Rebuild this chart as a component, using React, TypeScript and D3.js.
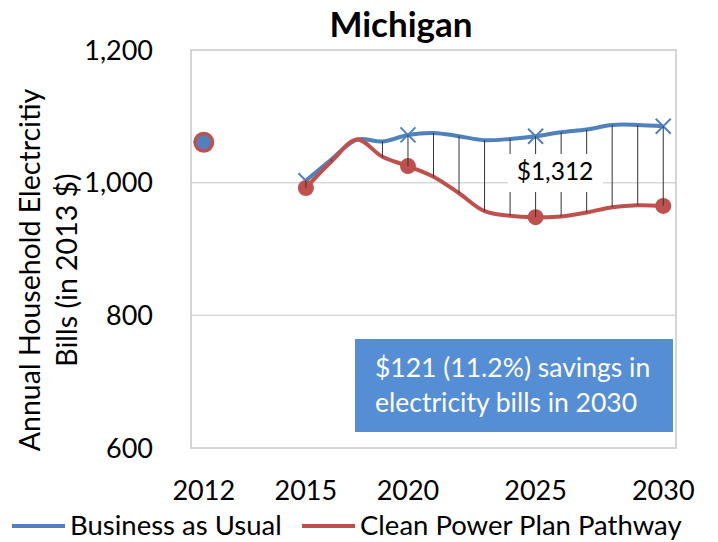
import React, { useEffect, useRef } from 'react';
import * as d3 from 'd3';

// category slots on the x axis (Excel category axis, blanks have no label)
const categories = ['2012', '', '', '', '2015', '', '', '', '2020', '', '', '', '', '2025', '', '', '', '', '2030'];

// historical 2012 bill
const historic = [{ index: 0, value: 1061 }];

// Business as Usual, from slot 4 (2015) to slot 18 (2030)
const bauValues = [1003, 1035, 1065, 1062, 1072, 1075, 1070, 1064, 1066, 1070, 1076, 1080, 1087, 1087, 1085];
// Clean Power Plan Pathway
const cppValues = [992, 1032, 1065, 1039, 1025, 1009, 984, 957, 950, 948, 949, 955, 963, 966, 965];
const seriesStart = 4;

// slots that carry a marker
const markerSlots = [4, 8, 13, 18];

const yTicks = [600, 800, 1000, 1200];

const BLUE = '#4F81BD';
const RED = '#C0504D';
const FONT = 'Lato, "Open Sans", sans-serif';

const App = () => {
  const svgRef = useRef<SVGSVGElement>(null);

  useEffect(() => {
    const width = 718;
    const height = 542;
    const left = 191, right = 676, top = 50, bottom = 448;

    const svg = d3.select(svgRef.current).attr('width', width).attr('height', height);
    svg.selectAll('*').remove();

    const x = d3.scaleBand<number>()
      .domain(d3.range(categories.length))
      .range([left, right]);
    const cx = (i: number) => (x(i) as number) + x.bandwidth() / 2;

    const y = d3.scaleLinear().domain([600, 1200]).range([bottom, top]);

    const bau = bauValues.map((v, i) => ({ index: i + seriesStart, value: v }));
    const cpp = cppValues.map((v, i) => ({ index: i + seriesStart, value: v }));

    // gridlines
    svg.append('g')
      .selectAll('line')
      .data(yTicks.filter(t => t > 600 && t < 1200))
      .enter()
      .append('line')
      .attr('x1', left).attr('x2', right)
      .attr('y1', d => y(d)).attr('y2', d => y(d))
      .attr('stroke', '#d9d9d9')
      .attr('stroke-width', 1.5);

    // plot frame
    svg.append('rect')
      .attr('x', left).attr('y', top)
      .attr('width', right - left).attr('height', bottom - top)
      .attr('fill', 'none')
      .attr('stroke', '#c8c8c8')
      .attr('stroke-width', 1.5);

    // y tick labels
    svg.append('g')
      .selectAll('text')
      .data(yTicks)
      .enter()
      .append('text')
      .attr('x', 153)
      .attr('y', d => y(d))
      .attr('dy', '0.36em')
      .attr('text-anchor', 'end')
      .style('font-family', FONT)
      .style('font-size', '27px')
      .attr('fill', '#000')
      .text(d => d3.format(',')(d));

    // x tick labels
    svg.append('g')
      .selectAll('text')
      .data(categories.map((c, i) => ({ c, i })).filter(d => d.c !== ''))
      .enter()
      .append('text')
      .attr('x', d => cx(d.i))
      .attr('y', 500)
      .attr('text-anchor', 'middle')
      .style('font-family', FONT)
      .style('font-size', '27px')
      .text(d => d.c);

    // y axis title
    const yTitle = svg.append('text')
      .attr('transform', 'translate(0,270) rotate(-90)')
      .attr('text-anchor', 'middle')
      .style('font-family', FONT)
      .style('font-size', '28.5px');
    yTitle.append('tspan').attr('x', 0).attr('y', 40).text('Annual Household Electrcitiy');
    yTitle.append('tspan').attr('x', 0).attr('y', 77).text('Bills (in 2013 $)');

    // title
    svg.append('text')
      .attr('x', 401)
      .attr('y', 37)
      .attr('text-anchor', 'middle')
      .style('font-family', FONT)
      .style('font-size', '35px')
      .style('font-weight', 'bold')
      .text('Michigan');

    const line = d3.line<{ index: number; value: number }>()
      .x(d => cx(d.index))
      .y(d => y(d.value))
      .curve(d3.curveCatmullRom.alpha(0.5));

    // Business as Usual
    svg.append('path')
      .datum(bau)
      .attr('d', line)
      .attr('fill', 'none')
      .attr('stroke', BLUE)
      .attr('stroke-width', 4);

    const s = 7.5;
    svg.append('g')
      .selectAll('path')
      .data(bau.filter(d => markerSlots.includes(d.index)))
      .enter()
      .append('path')
      .attr('d', d => {
        const px = cx(d.index), py = y(d.value);
        return `M${px - s},${py - s}L${px + s},${py + s}M${px - s},${py + s}L${px + s},${py - s}`;
      })
      .attr('stroke', BLUE)
      .attr('stroke-width', 2)
      .attr('fill', 'none');

    // Clean Power Plan Pathway
    svg.append('path')
      .datum(cpp)
      .attr('d', line)
      .attr('fill', 'none')
      .attr('stroke', RED)
      .attr('stroke-width', 4);

    svg.append('g')
      .selectAll('circle')
      .data(cpp.filter(d => markerSlots.includes(d.index)))
      .enter()
      .append('circle')
      .attr('cx', d => cx(d.index))
      .attr('cy', d => y(d.value))
      .attr('r', 8)
      .attr('fill', RED);

    // drop lines between the two series
    svg.append('g')
      .selectAll('line')
      .data(bau.map((d, i) => ({ index: d.index, hi: d.value, lo: cpp[i].value })))
      .enter()
      .append('line')
      .attr('x1', d => cx(d.index)).attr('x2', d => cx(d.index))
      .attr('y1', d => y(d.hi)).attr('y2', d => y(d.lo))
      .attr('stroke', '#333')
      .attr('stroke-width', 1);

    // 2012 historical point
    historic.forEach(d => {
      svg.append('circle')
        .attr('cx', cx(d.index)).attr('cy', y(d.value))
        .attr('r', 10.5).attr('fill', RED);
      svg.append('circle')
        .attr('cx', cx(d.index)).attr('cy', y(d.value))
        .attr('r', 7).attr('fill', BLUE);
    });

    // cumulative savings label
    svg.append('rect')
      .attr('x', 508).attr('y', 154)
      .attr('width', 95).attr('height', 38)
      .attr('fill', '#fff');
    svg.append('text')
      .attr('x', 555)
      .attr('y', 180)
      .attr('text-anchor', 'middle')
      .style('font-family', FONT)
      .style('font-size', '24.5px')
      .text('$1,312');

    // savings callout box
    svg.append('rect')
      .attr('x', 355).attr('y', 339)
      .attr('width', 318).attr('height', 93)
      .attr('fill', '#558ED5');
    const note = svg.append('text')
      .style('font-family', FONT)
      .style('font-size', '26.5px')
      .attr('fill', '#fff');
    note.append('tspan').attr('x', 375).attr('y', 377).text('$121 (11.2%) savings in');
    note.append('tspan').attr('x', 375).attr('y', 412).text('electricity bills in 2030');

    // legend
    const legend = [
      { name: 'Business as Usual', color: BLUE, x0: 12 },
      { name: 'Clean Power Plan Pathway', color: RED, x0: 302 },
    ];
    const lg = svg.append('g')
      .selectAll('g')
      .data(legend)
      .enter()
      .append('g');
    lg.append('line')
      .attr('x1', d => d.x0).attr('x2', d => d.x0 + 53)
      .attr('y1', 526).attr('y2', 526)
      .attr('stroke', d => d.color)
      .attr('stroke-width', 4);
    lg.append('text')
      .attr('x', d => d.x0 + 58)
      .attr('y', 535)
      .style('font-family', FONT)
      .style('font-size', '27.5px')
      .text(d => d.name);
  }, []);

  return (
    <svg ref={svgRef} style={{ position: 'absolute', left: 0, top: 0, display: 'block' }}></svg>
  );
};

export default App;
